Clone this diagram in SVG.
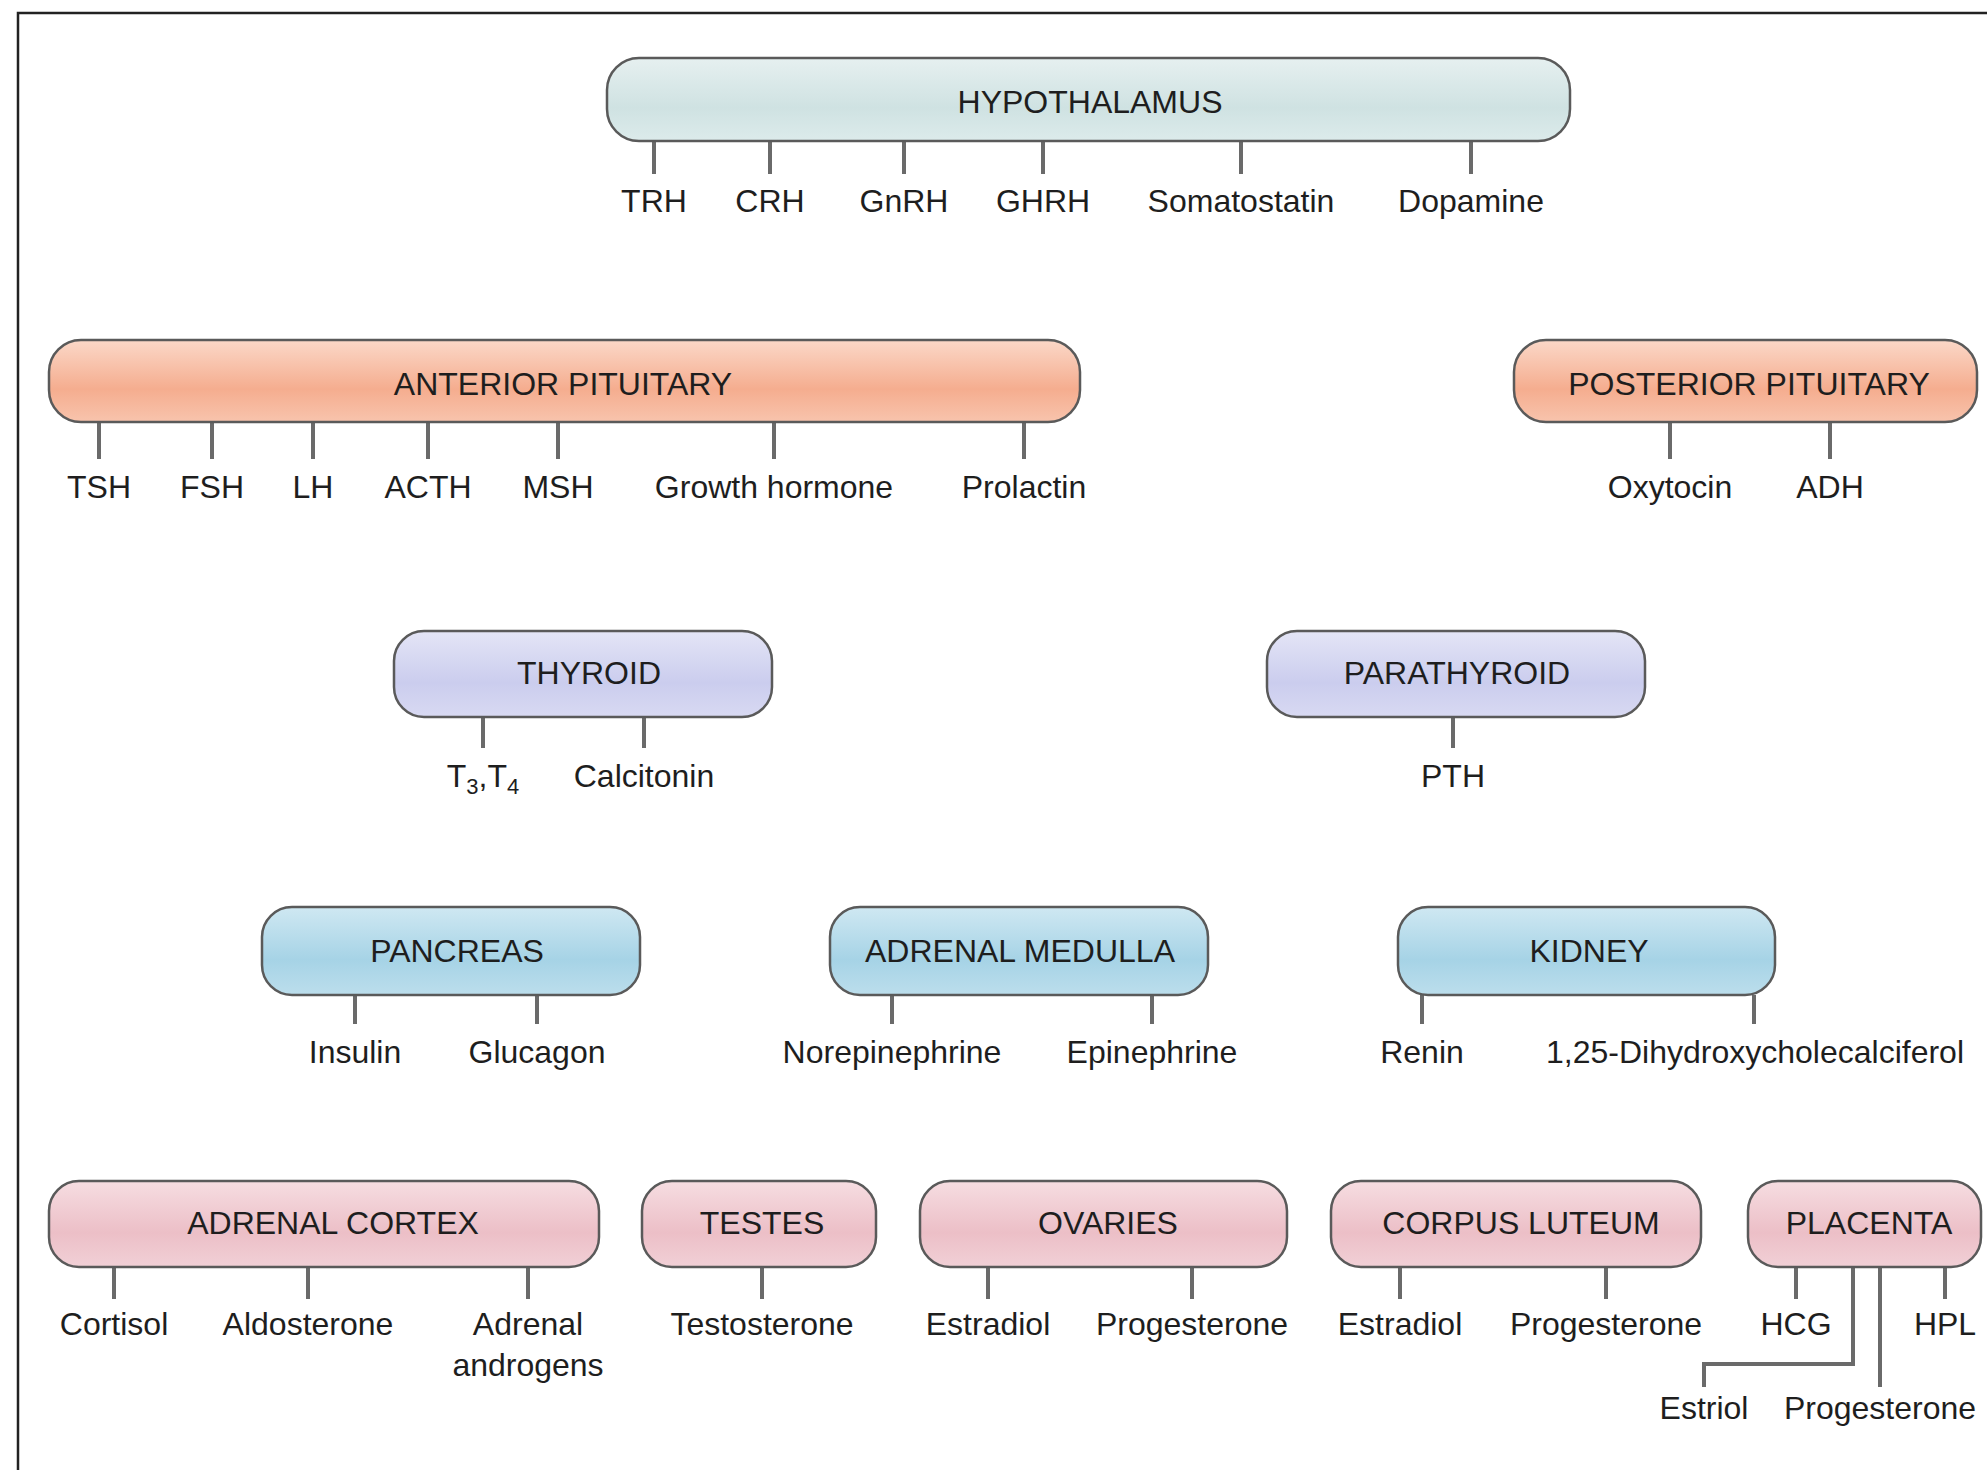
<svg xmlns="http://www.w3.org/2000/svg" width="1987" height="1470" viewBox="0 0 1987 1470">
<style>
text{font-family:"Liberation Sans",Arial,sans-serif;font-size:32px;fill:#1e1e1e;text-anchor:middle}
.box{stroke:#5a5a5a;stroke-width:2.5}
.tick{stroke:#6a6a6a;stroke-width:4;fill:none}
</style>
<defs>
<linearGradient id="gHyp" x1="0" y1="0" x2="0" y2="1"><stop offset="0" stop-color="#e6f0f0"/><stop offset="0.6" stop-color="#cfe2e2"/><stop offset="1" stop-color="#dcebeb"/></linearGradient>
<linearGradient id="gPit" x1="0" y1="0" x2="0" y2="1"><stop offset="0" stop-color="#fbd8c8"/><stop offset="0.6" stop-color="#f5ad8f"/><stop offset="1" stop-color="#f8c4ad"/></linearGradient>
<linearGradient id="gThy" x1="0" y1="0" x2="0" y2="1"><stop offset="0" stop-color="#e4e5f6"/><stop offset="0.6" stop-color="#cbcdee"/><stop offset="1" stop-color="#d8d9f2"/></linearGradient>
<linearGradient id="gBlu" x1="0" y1="0" x2="0" y2="1"><stop offset="0" stop-color="#cfe8f2"/><stop offset="0.6" stop-color="#a6d3e6"/><stop offset="1" stop-color="#bcdeec"/></linearGradient>
<linearGradient id="gPnk" x1="0" y1="0" x2="0" y2="1"><stop offset="0" stop-color="#f6dde1"/><stop offset="0.6" stop-color="#ecbfc7"/><stop offset="1" stop-color="#f1d0d6"/></linearGradient>
</defs>
<rect width="1987" height="1470" fill="#ffffff"/>
<rect x="18" y="13" width="2100" height="1600" fill="none" stroke="#222" stroke-width="2.5"/>

<g id="connectors">
<path class="tick" d="M654 141V174M770 141V174M904 141V174M1043 141V174M1241 141V174M1471 141V174"/>
<path class="tick" d="M99 422V459M212 422V459M313 422V459M428 422V459M558 422V459M774 422V459M1024 422V459"/>
<path class="tick" d="M1670 422V459M1830 422V459"/>
<path class="tick" d="M483 717V748M644 717V748"/>
<path class="tick" d="M1453 717V748"/>
<path class="tick" d="M355 995V1024M537 995V1024"/>
<path class="tick" d="M892 995V1024M1152 995V1024"/>
<path class="tick" d="M1422 995V1024M1754 995V1024"/>
<path class="tick" d="M114 1267V1299M308 1267V1299M528 1267V1299"/>
<path class="tick" d="M762 1267V1299"/>
<path class="tick" d="M988 1267V1299M1192 1267V1299"/>
<path class="tick" d="M1400 1267V1299M1606 1267V1299"/>
<path class="tick" d="M1796 1267V1299M1945 1267V1299"/>
<path class="tick" d="M1853 1267V1364H1704V1387" stroke-width="5"/>
<path class="tick" d="M1880 1267V1387"/>
</g>

<g id="hypothalamus">
<rect class="box" x="607" y="58" width="963" height="83" rx="32" fill="url(#gHyp)"/>
<text x="1090" y="113">HYPOTHALAMUS</text>
<text x="654" y="212">TRH</text><text x="770" y="212">CRH</text><text x="904" y="212">GnRH</text><text x="1043" y="212">GHRH</text><text x="1241" y="212">Somatostatin</text><text x="1471" y="212">Dopamine</text>
</g>

<g id="anterior-pituitary">
<rect class="box" x="49" y="340" width="1031" height="82" rx="32" fill="url(#gPit)"/>
<text x="563" y="395">ANTERIOR PITUITARY</text>
<text x="99" y="498">TSH</text><text x="212" y="498">FSH</text><text x="313" y="498">LH</text><text x="428" y="498">ACTH</text><text x="558" y="498">MSH</text><text x="774" y="498">Growth hormone</text><text x="1024" y="498">Prolactin</text>
</g>

<g id="posterior-pituitary">
<rect class="box" x="1514" y="340" width="463" height="82" rx="32" fill="url(#gPit)"/>
<text x="1749" y="395">POSTERIOR PITUITARY</text>
<text x="1670" y="498">Oxytocin</text><text x="1830" y="498">ADH</text>
</g>

<g id="thyroid">
<rect class="box" x="394" y="631" width="378" height="86" rx="30" fill="url(#gThy)"/>
<text x="589" y="684">THYROID</text>
<text x="483" y="787">T<tspan font-size="22" dy="7">3</tspan><tspan dy="-7">,T</tspan><tspan font-size="22" dy="7">4</tspan></text>
<text x="644" y="787">Calcitonin</text>
</g>

<g id="parathyroid">
<rect class="box" x="1267" y="631" width="378" height="86" rx="30" fill="url(#gThy)"/>
<text x="1457" y="684">PARATHYROID</text>
<text x="1453" y="787">PTH</text>
</g>

<g id="pancreas">
<rect class="box" x="262" y="907" width="378" height="88" rx="30" fill="url(#gBlu)"/>
<text x="457" y="962">PANCREAS</text>
<text x="355" y="1063">Insulin</text><text x="537" y="1063">Glucagon</text>
</g>

<g id="adrenal-medulla">
<rect class="box" x="830" y="907" width="378" height="88" rx="30" fill="url(#gBlu)"/>
<text x="1020" y="962">ADRENAL MEDULLA</text>
<text x="892" y="1063">Norepinephrine</text><text x="1152" y="1063">Epinephrine</text>
</g>

<g id="kidney">
<rect class="box" x="1398" y="907" width="377" height="88" rx="30" fill="url(#gBlu)"/>
<text x="1589" y="962">KIDNEY</text>
<text x="1422" y="1063">Renin</text><text x="1755" y="1063">1,25-Dihydroxycholecalciferol</text>
</g>

<g id="adrenal-cortex">
<rect class="box" x="49" y="1181" width="550" height="86" rx="30" fill="url(#gPnk)"/>
<text x="333" y="1234">ADRENAL CORTEX</text>
<text x="114" y="1335">Cortisol</text><text x="308" y="1335">Aldosterone</text><text x="528" y="1335">Adrenal</text><text x="528" y="1376">androgens</text>
</g>

<g id="testes">
<rect class="box" x="642" y="1181" width="234" height="86" rx="30" fill="url(#gPnk)"/>
<text x="762" y="1234">TESTES</text>
<text x="762" y="1335">Testosterone</text>
</g>

<g id="ovaries">
<rect class="box" x="920" y="1181" width="367" height="86" rx="30" fill="url(#gPnk)"/>
<text x="1108" y="1234">OVARIES</text>
<text x="988" y="1335">Estradiol</text><text x="1192" y="1335">Progesterone</text>
</g>

<g id="corpus-luteum">
<rect class="box" x="1331" y="1181" width="370" height="86" rx="30" fill="url(#gPnk)"/>
<text x="1521" y="1234">CORPUS LUTEUM</text>
<text x="1400" y="1335">Estradiol</text><text x="1606" y="1335">Progesterone</text>
</g>

<g id="placenta">
<rect class="box" x="1748" y="1181" width="233" height="86" rx="30" fill="url(#gPnk)"/>
<text x="1869" y="1234">PLACENTA</text>
<text x="1796" y="1335">HCG</text><text x="1945" y="1335">HPL</text>
<text x="1704" y="1419">Estriol</text><text x="1880" y="1419">Progesterone</text>
</g>
</svg>
